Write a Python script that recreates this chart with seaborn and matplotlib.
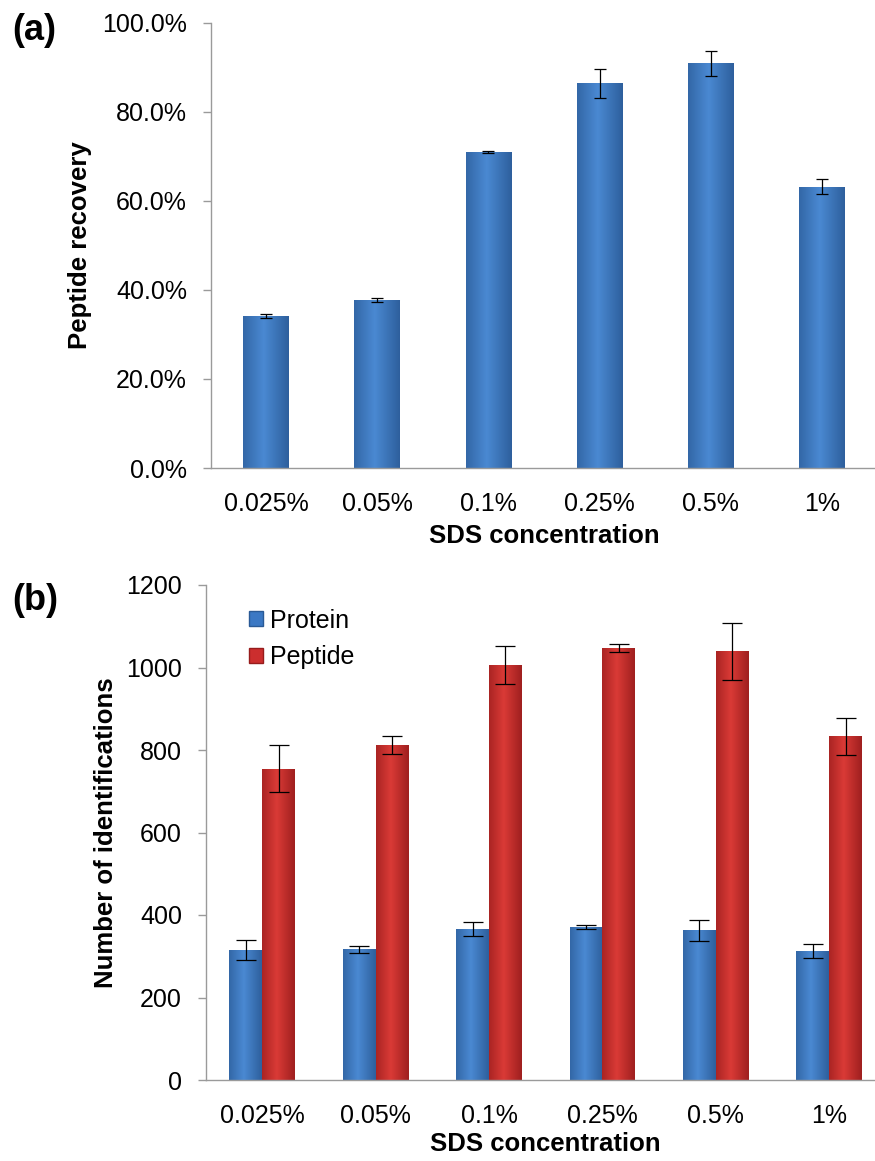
import numpy as np
import pandas as pd
import matplotlib
matplotlib.use("Agg")
import matplotlib.pyplot as plt
from matplotlib.colors import LinearSegmentedColormap
from matplotlib.patches import Patch
import seaborn as sns

# ---------------- data ----------------
concentrations = ["0.025%", "0.05%", "0.1%", "0.25%", "0.5%", "1%"]
recovery = [34.1, 37.7, 71.0, 86.4, 90.9, 63.2]          # percent
recovery_err = [0.5, 0.5, 0.3, 3.2, 2.8, 1.6]
protein = [315, 317, 366, 370, 363, 312]
protein_err = [25, 8, 17, 5, 25, 17]
peptide = [755, 813, 1006, 1047, 1039, 833]
peptide_err = [58, 22, 47, 9, 70, 45]
series_names = ["Protein", "Peptide"]
recovery_ticks = [0, 20, 40, 60, 80, 100]
ident_ticks = [0, 200, 400, 600, 800, 1000, 1200]

# ---------------- style ----------------
sns.set_style("white")
plt.rcParams["font.family"] = ["Liberation Sans", "DejaVu Sans"]
plt.rcParams["text.color"] = "black"
plt.rcParams["axes.labelcolor"] = "black"
plt.rcParams["xtick.labelcolor"] = "black"
plt.rcParams["ytick.labelcolor"] = "black"

BLUE = "#3b78c4"
RED = "#cc2e2e"
blue_cmap = LinearSegmentedColormap.from_list("b", ["#2a5a96", "#4a89d2"])
red_cmap = LinearSegmentedColormap.from_list("r", ["#971c1c", "#da3a36"])
AXIS_GRAY = "#9a9a9a"

W, H = 875, 1161
fig = plt.figure(figsize=(W / 100, H / 100), dpi=100)


def frac_axes(left, right, top, bottom):
    return fig.add_axes([left / W, 1 - bottom / H, (right - left) / W, (bottom - top) / H])


ax1 = frac_axes(210.5, 877.6, 22.7, 468)
ax2 = frac_axes(205.5, 886.0, 585, 1080)


def shade_bars(ax, container, cmap):
    t = np.linspace(0, 1, 80)
    profile = 1 - np.abs(t - 0.45) * 1.6
    profile = np.clip(profile, 0, 1)
    for p in container.patches:
        x, y = p.get_x(), p.get_y()
        w, h = p.get_width(), p.get_height()
        im = ax.imshow(profile[None, :], cmap=cmap, vmin=0, vmax=1,
                       extent=[x, x + w, y, y + h], aspect="auto",
                       zorder=p.get_zorder() + 0.1, interpolation="bilinear")
        im.set_clip_path(p)


def style_axes(ax, ymax, ticks):
    for s in ["top", "right"]:
        ax.spines[s].set_visible(False)
    for s in ["left", "bottom"]:
        ax.spines[s].set_color(AXIS_GRAY)
        ax.spines[s].set_linewidth(1.0)
    ax.set_ylim(0, ymax)
    ax.set_yticks(ticks)
    ax.set_xlim(-0.5, 5.5)
    ax.tick_params(axis="y", direction="out", length=6, width=1.0, color=AXIS_GRAY,
                   labelsize=18, pad=11, left=True, labelcolor="black")
    ax.tick_params(axis="x", length=0, labelsize=18, pad=17, labelcolor="black")
    ax.grid(False)


# ---------------- panel (a) ----------------
df_a = pd.DataFrame({"conc": concentrations, "recovery": recovery})
sns.barplot(data=df_a, x="conc", y="recovery", color=BLUE, width=0.41,
            errorbar=None, ax=ax1, saturation=1)
cont = ax1.containers[0]
shade_bars(ax1, cont, blue_cmap)
xs = [p.get_x() + p.get_width() / 2 for p in cont.patches]
ax1.errorbar(xs, recovery, yerr=recovery_err, fmt="none", ecolor="black",
             elinewidth=0.9, capsize=4.5, capthick=0.9, zorder=5)
style_axes(ax1, 100, recovery_ticks)
ax1.set_yticklabels([f"{v:.1f}%" for v in recovery_ticks])
ax1.set_xlabel("SDS concentration", fontsize=18.5, fontweight="bold", color="black")
ax1.set_ylabel("Peptide recovery", fontsize=18.5, fontweight="bold", color="black")
ax1.xaxis.set_label_coords(0.5, -0.125)
ax1.yaxis.set_label_coords(-0.178, 0.5)

# ---------------- panel (b) ----------------
df_b = pd.DataFrame({
    "conc": concentrations * 2,
    "type": [series_names[0]] * len(concentrations) + [series_names[1]] * len(concentrations),
    "count": protein + peptide,
})
sns.barplot(data=df_b, x="conc", y="count", hue="type", hue_order=series_names,
            palette=[BLUE, RED], width=0.58, gap=0, errorbar=None, ax=ax2,
            saturation=1, legend=False)
for cont_b, vals, errs, cmap in zip(ax2.containers, [protein, peptide],
                                    [protein_err, peptide_err], [blue_cmap, red_cmap]):
    shade_bars(ax2, cont_b, cmap)
    xs = [p.get_x() + p.get_width() / 2 for p in cont_b.patches]
    ax2.errorbar(xs, vals, yerr=errs, fmt="none", ecolor="black",
                 elinewidth=0.9, capsize=7, capthick=0.9, zorder=5)
style_axes(ax2, 1200, ident_ticks)
ax2.set_xlabel("SDS concentration", fontsize=18.5, fontweight="bold", color="black")
ax2.set_ylabel("Number of identifications", fontsize=18.5, fontweight="bold", color="black")
ax2.xaxis.set_label_coords(0.5, -0.105)
ax2.yaxis.set_label_coords(-0.128, 0.5)

handles = [Patch(facecolor=BLUE, edgecolor="#2a5a96", label=series_names[0]),
           Patch(facecolor=RED, edgecolor="#971c1c", label=series_names[1])]
leg = ax2.legend(handles=handles, loc="upper left", bbox_to_anchor=(0.064, 0.952),
                 frameon=False, fontsize=18, handlelength=0.55, handleheight=0.55,
                 handletextpad=0.3, labelspacing=0.5, borderpad=0, borderaxespad=0)
for t in leg.get_texts():
    t.set_color("black")

# panel letters
fig.text(12 / W, 1 - 31 / H, "(a)", fontsize=26, fontweight="bold", va="center", ha="left",
         color="black")
fig.text(12 / W, 1 - 601 / H, "(b)", fontsize=26, fontweight="bold", va="center", ha="left",
         color="black")

fig.savefig("out.png", dpi=100)
